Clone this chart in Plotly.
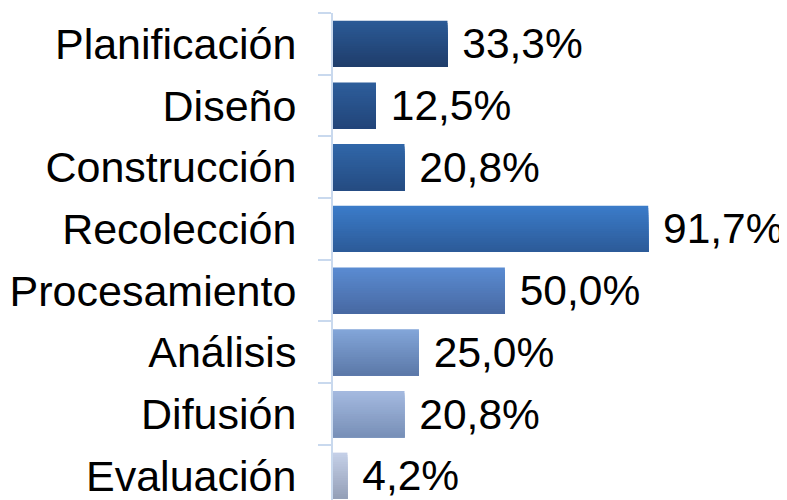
import plotly.graph_objects as go

categories = ["Planificación", "Diseño", "Construcción", "Recolección",
              "Procesamiento", "Análisis", "Difusión", "Evaluación"]
values = [33.3, 12.5, 20.8, 91.7, 50.0, 25.0, 20.8, 4.2]

top_colors = ["#2b5a96", "#2d5d9a", "#3066a8", "#3b7bc8",
              "#5a8bd1", "#82a5d8", "#a4b9df", "#c4cfe7"]
bottom_colors = ["#1f3d6b", "#22457a", "#254c82", "#2c5b99",
                 "#4869a3", "#5c79a9", "#7890b8", "#95a0b8"]


def hex2rgb(h):
    h = h.lstrip("#")
    return tuple(int(h[i:i + 2], 16) for i in (0, 2, 4))


def mix(c1, c2, t):
    a, b = hex2rgb(c1), hex2rgb(c2)
    return "rgb(%d,%d,%d)" % tuple(round(a[i] + (b[i] - a[i]) * t) for i in range(3))


FONT = "Liberation Sans, Arial, sans-serif"
BAR_W = 0.75
N = 20
fig = go.Figure()
sw = BAR_W / N
for k in range(N):
    t = k / (N - 1)
    fig.add_trace(go.Bar(
        x=values, y=categories, orientation="h",
        width=BAR_W - k * sw,
        offset=-BAR_W / 2 + k * sw,
        marker=dict(color=[mix(a, b, t) for a, b in zip(top_colors, bottom_colors)],
                    line=dict(width=0)),
        hoverinfo="skip", showlegend=False,
    ))

fig.add_trace(go.Bar(
    x=values, y=categories, orientation="h", width=BAR_W,
    marker=dict(color="rgba(0,0,0,0)", line=dict(width=0)),
    texttemplate=" %{x:.1f}%", textposition="outside",
    textfont=dict(family=FONT, size=42.5, color="#000000"),
    cliponaxis=False, constraintext="none", showlegend=False,
))

fig.update_layout(
    template="none",
    width=787, height=500,
    margin=dict(l=325, r=0, t=5, b=0, autoexpand=False),
    paper_bgcolor="white", plot_bgcolor="white",
    barmode="overlay",
    separators=", ",
    font=dict(family=FONT, size=43, color="#000000"),
    xaxis=dict(range=[0, 134.4], visible=False, showgrid=False, zeroline=False,
               automargin=False),
    yaxis=dict(
        type="category", categoryorder="array", categoryarray=categories,
        range=[7.523, -0.5], automargin=False,
        showline=True, linecolor="#c9d9ee", linewidth=2,
        ticks="outside", tickson="boundaries", ticklen=13,
        tickcolor="#c9d9ee", tickwidth=2,
        ticklabelstandoff=26,
        showgrid=False, zeroline=False,
        tickfont=dict(family=FONT, size=43, color="#000000"),
    ),
)

fig.write_html("out.html")
